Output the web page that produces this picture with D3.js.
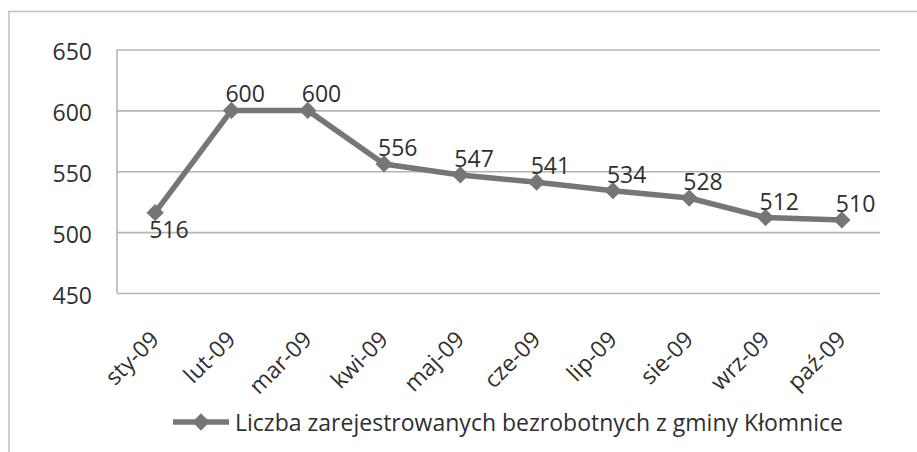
<!DOCTYPE html>
<html>
<head>
<meta charset="utf-8">
<script src="https://cdn.jsdelivr.net/npm/d3@7"></script>
<style>
  html, body { margin: 0; padding: 0; background: #fff; }
  svg { display: block; font-family: "Open Sans", sans-serif; }
</style>
</head>
<body>
<svg id="chart" width="917" height="452"></svg>
<script>
const categories = ["sty-09", "lut-09", "mar-09", "kwi-09", "maj-09", "cze-09", "lip-09", "sie-09", "wrz-09", "paź-09"];
const values = [516, 600, 600, 556, 547, 541, 534, 528, 512, 510];
const yTicks = [450, 500, 550, 600, 650];
const seriesName = "Liczba zarejestrowanych bezrobotnych z gminy Kłomnice";

(function () {
const svg = d3.select("#chart");
const pLeft = 117, pRight = 880, pTop = 49.5, pBottom = 293;
const lineColor = "#767676";
const gridColor = "#b4b4b4";
const textColor = "#2f2f2f";
const fontSize = 23;

// outer chart border (top and left visible)
svg.append("path")
  .attr("d", "M9,452 V11.5 H917")
  .attr("fill", "none").attr("stroke", "#c0c0c0").attr("stroke-width", 1.5);

const x = d3.scalePoint().domain(categories).range([pLeft, pRight]).padding(0.5);
const y = d3.scaleLinear().domain([450, 650]).range([pBottom, pTop]);

// y axis with gridlines
const yAxis = svg.append("g").attr("transform", `translate(${pLeft},0)`)
  .call(d3.axisLeft(y).tickValues(yTicks).tickSize(-(pRight - pLeft)).tickPadding(25).tickFormat(d3.format("d")));
yAxis.select(".domain").remove();
yAxis.selectAll(".tick line").attr("stroke", gridColor).attr("stroke-width", 1.6);
yAxis.selectAll(".tick text").attr("fill", textColor).attr("font-size", fontSize)
  .attr("font-family", "'Open Sans', sans-serif").attr("dy", "0.45em");

// left vertical axis line
svg.append("line").attr("x1", pLeft).attr("x2", pLeft).attr("y1", pTop).attr("y2", pBottom)
  .attr("stroke", gridColor).attr("stroke-width", 1.6);

// x axis labels
const xAxis = svg.append("g").attr("transform", `translate(0,${pBottom})`)
  .call(d3.axisBottom(x).tickSize(0).tickPadding(0));
xAxis.select(".domain").remove();
xAxis.selectAll(".tick text")
  .attr("fill", textColor).attr("font-size", fontSize)
  .attr("font-family", "'Open Sans', sans-serif")
  .attr("text-anchor", "end").attr("y", 0).attr("dy", 0)
  .attr("transform", "translate(5,48) rotate(-45)");

// line
const line = d3.line().x((d, i) => x(categories[i])).y(d => y(d));
svg.append("path").datum(values)
  .attr("d", line).attr("fill", "none")
  .attr("stroke", lineColor).attr("stroke-width", 5.5).attr("stroke-linejoin", "round");

// markers
const diamond = d3.symbol().type(d3.symbolDiamond2).size(190);
svg.selectAll(".mk").data(values).enter().append("path")
  .attr("class", "mk")
  .attr("d", diamond)
  .attr("transform", (d, i) => `translate(${x(categories[i])},${y(d)})`)
  .attr("fill", lineColor);

// data labels
svg.selectAll(".lbl").data(values).enter().append("text")
  .attr("class", "lbl")
  .attr("x", (d, i) => x(categories[i]) - 6)
  .attr("y", (d, i) => i === 0 ? y(d) + 25 : y(d) - 8)
  .attr("fill", textColor).attr("font-size", fontSize)
  .text(d => d);

// legend
const lg = svg.append("g");
lg.append("line").attr("x1", 173).attr("x2", 229).attr("y1", 422).attr("y2", 422)
  .attr("stroke", lineColor).attr("stroke-width", 5.5);
lg.append("path").attr("d", diamond).attr("transform", "translate(201,422)").attr("fill", lineColor);
lg.append("text").attr("x", 235).attr("y", 431)
  .attr("fill", textColor).attr("font-size", fontSize)
  .attr("textLength", 608).attr("lengthAdjust", "spacing")
  .text(seriesName);
})();
</script>
</body>
</html>
